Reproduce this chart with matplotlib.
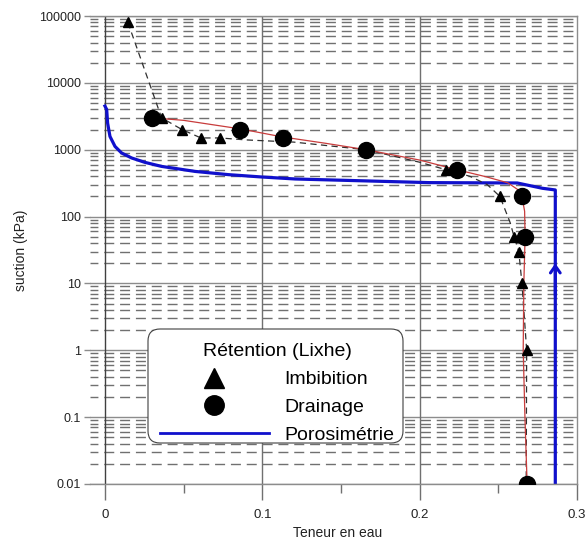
import numpy as np
import matplotlib
matplotlib.use("Agg")
import matplotlib.pyplot as plt
from matplotlib.lines import Line2D
from matplotlib.patches import FancyBboxPatch
from matplotlib.transforms import IdentityTransform
from matplotlib.ticker import FixedLocator, NullFormatter

plt.rcParams['font.family'] = ['Liberation Sans', 'DejaVu Sans']

# imbibition points (triangles)
imb_x = [0.0146, 0.036, 0.049, 0.061, 0.073, 0.217, 0.251, 0.260, 0.263, 0.265, 0.268, 0.2677]
imb_y = [80000, 3000, 2000, 1500, 1500, 500, 200, 50, 30, 10, 1, 0.01]

# dashed curve through the imbibition points, as drawn on the picture
imb_curve_x = [0.0146, 0.036, 0.049, 0.061, 0.073, 0.09, 0.12, 0.166, 0.20, 0.217, 0.232,
               0.243, 0.251, 0.2576, 0.260, 0.263, 0.265, 0.268, 0.2677]
imb_curve_y = [80000, 3000, 2000, 1500, 1500, 1400, 1300, 1000, 650, 500, 400,
               300, 200, 80, 50, 30, 10, 1, 0.01]

# drainage points (circles)
dra_x = [0.0297, 0.086, 0.113, 0.166, 0.224, 0.265, 0.267, 0.268]
dra_y = [3000, 2000, 1500, 1000, 500, 200, 50, 0.01]

# red fitted curve
fit_x = [0.0297, 0.05, 0.086, 0.113, 0.14, 0.166, 0.20, 0.224, 0.242, 0.256, 0.2627,
         0.265, 0.2667, 0.267, 0.2662, 0.2658, 0.2669, 0.2683]
fit_y = [3000, 2750, 2050, 1550, 1250, 1000, 700, 500, 395, 320, 250,
         200, 120, 50, 10, 1, 0.1, 0.01]

# porosimetry (blue)
por_x = [0.0, 0.0011, 0.0017, 0.0032, 0.0064, 0.0106, 0.017, 0.0254, 0.036, 0.0572,
         0.0784, 0.0996, 0.1208, 0.206, 0.262, 0.278, 0.2862, 0.2862]
por_y = [4500, 4000, 2500, 1580, 1120, 893, 752, 647, 563, 474,
         424, 391, 365, 322, 318, 265, 250, 0.01]

yticks = [0.01, 0.1, 1, 10, 100, 1000, 10000, 100000]
ytick_labels = ['0.01', '0.1', '1', '10', '100', '1000', '10000', '100000']
xticks = [0, 0.1, 0.2, 0.3]
xtick_labels = ['0', '0.1', '0.2', '0.3']

fig = plt.figure(figsize=(5.87, 5.41), dpi=100)
ax = fig.add_axes([0.1533, 0.1054, 0.8297, 0.865])
ax.set_yscale('log')
ax.set_xlim(-0.0095, 0.3)
ax.set_ylim(0.01, 100000)

# minor dashed grid lines
for dec in range(-2, 5):
    for m in range(2, 10):
        ax.axhline(m * 10.0 ** dec, color='#707070', lw=1.0,
                   linestyle=(1.5, (7.2, 4.2)), zorder=0)
for yv in yticks:
    ax.axhline(yv, color='#8c8c8c', lw=1.0, zorder=0.5)
for xv in xticks[:-1]:
    ax.axvline(xv, color='#404040' if xv == 0 else '#707070', lw=1.0, zorder=0.5)

ax.plot(por_x, por_y, color='#1010cc', lw=2.3, zorder=2)
ax.annotate('', xy=(0.2862, 22), xytext=(0.2862, 6),
            arrowprops=dict(arrowstyle='->,head_length=0.5,head_width=0.35',
                            color='#1010cc', lw=2.2), zorder=3)
ax.plot(imb_curve_x, imb_curve_y, color='#303030', lw=0.9, linestyle=(0, (5, 3.5)), zorder=3)
ax.plot(fit_x, fit_y, color='#c83c3c', lw=0.9, zorder=3)
ax.plot(imb_x, imb_y, linestyle='none', marker='^', color='black', markersize=7, zorder=4)
ax.plot(dra_x, dra_y, linestyle='none', marker='o', color='black', markersize=11.5, zorder=5)

ax.yaxis.set_major_locator(FixedLocator(yticks))
ax.set_yticklabels(ytick_labels)
ax.yaxis.set_minor_locator(FixedLocator([]))
ax.yaxis.set_minor_formatter(NullFormatter())
ax.xaxis.set_major_locator(FixedLocator(xticks))
ax.set_xticklabels(xtick_labels)
ax.xaxis.set_minor_locator(FixedLocator([0.05, 0.15, 0.25]))
ax.tick_params(axis='y', which='major', length=4.3, width=1, color='#8c8c8c',
               labelsize=9, labelcolor='#222222', pad=2)
ax.tick_params(axis='x', which='major', length=11.8, width=1, color='#707070',
               labelsize=9.5, labelcolor='#222222', pad=6)
ax.tick_params(axis='x', which='minor', length=6.5, width=1, color='#707070')

ax.spines['left'].set_visible(False)
for s in ['top', 'right', 'bottom']:
    ax.spines[s].set_color('#8c8c8c')
    ax.spines[s].set_linewidth(1.0)

ax.set_xlabel('Teneur en eau', fontsize=10, color='#222222', labelpad=3)
ax.xaxis.set_label_coords(0.509, -0.089)
ax.set_ylabel('suction (kPa)', fontsize=10, color='#222222', labelpad=8)

# legend box drawn by hand (pixel coords), legend itself without frame
box = FancyBboxPatch((148, 98), 255, 114, boxstyle='round,pad=0,rounding_size=12',
                     transform=IdentityTransform(), facecolor='white',
                     edgecolor='#404040', linewidth=0.8, zorder=6)
fig.add_artist(box)

handles = [
    Line2D([], [], linestyle='none', marker='^', color='black', markersize=14),
    Line2D([], [], linestyle='none', marker='o', color='black', markersize=14),
    Line2D([], [], color='#1010cc', lw=2.0),
]
leg = fig.legend(handles, ['Imbibition', 'Drainage', 'Porosimétrie'],
                 title='Rétention (Lixhe)', loc='lower left',
                 bbox_to_anchor=(155, 92), bbox_transform=IdentityTransform(),
                 borderaxespad=0, fontsize=14, title_fontsize=14, handlelength=5.6,
                 handletextpad=0.8, labelspacing=0.53, borderpad=0.25,
                 frameon=False)
leg.set_zorder(7)

fig.savefig('out.png', dpi=100)
